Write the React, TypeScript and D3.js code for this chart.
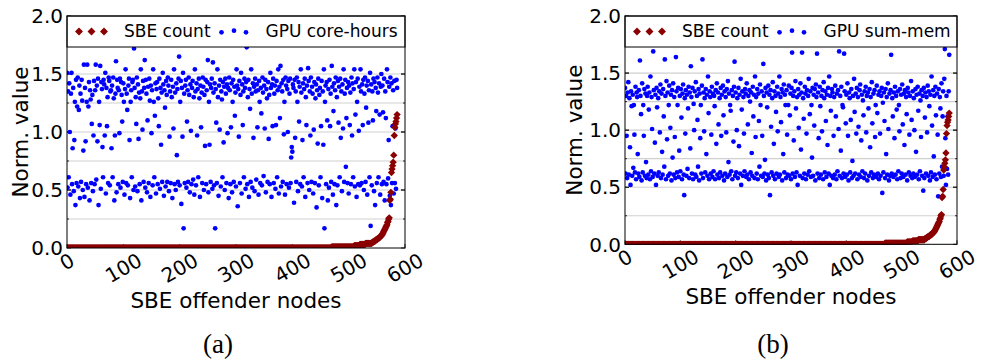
import * as d3 from "d3";

// node index runs 0..586, sorted by SBE count
const xTicks = [0, 100, 200, 300, 400, 500, 600];
const yTicks = [0, 0.5, 1, 1.5, 2];
const yGrid = [0.25, 0.5, 0.75, 1, 1.25, 1.5, 1.75];

// normalized SBE count per node (same nodes in both panels)
const sbeCount = [
  0,0,0,0,0,0,0,0,0,0,0,0,0,0,0,0,0,0,0,0,0,0,0,0,0,0,0,0,0,0,
  0,0,0,0,0,0,0,0,0,0,0,0,0,0,0,0,0,0,0,0,0,0,0,0,0,0,0,0,0,0,
  0,0,0,0,0,0,0,0,0,0,0,0,0,0,0,0,0,0,0,0,0,0,0,0,0,0,0,0,0,0,
  0,0,0,0,0,0,0,0,0,0,0,0,0,0,0,0,0,0,0,0,0,0,0,0,0,0,0,0,0,0,
  0,0,0,0,0,0,0,0,0,0,0,0,0,0,0,0,0,0,0,0,0,0,0,0,0,0,0,0,0,0,
  0,0,0,0,0,0,0,0,0,0,0,0,0,0,0,0,0,0,0,0,0,0,0,0,0,0,0,0,0,0,
  0,0,0,0,0,0,0,0,0,0,0,0,0,0,0,0,0,0,0,0,0,0,0,0,0,0,0,0,0,0,
  0,0,0,0,0,0,0,0,0,0,0,0,0,0,0,0,0,0,0,0,0,0,0,0,0,0,0,0,0,0,
  0,0,0,0,0,0,0,0,0,0,0,0,0,0,0,0,0,0,0,0,0,0,0,0,0,0,0,0,0,0,
  0,0,0,0,0,0,0,0,0,0,0,0,0,0,0,0,0,0,0,0,0,0,0,0,0,0,0,0,0,0,
  0,0,0,0,0,0,0,0,0,0,0,0,0,0,0,0,0,0,0,0,0,0,0,0,0,0,0,0,0,0,
  0,0,0,0,0,0,0,0,0,0,0,0,0,0,0,0,0,0,0,0,0,0,0,0,0,0,0,0,0,0,
  0,0,0,0,0,0,0,0,0,0,0,0,0,0,0,0,0,0,0,0,0,0,0,0,0,0,0,0,0,0,
  0,0,0,0,0,0,0,0,0,0,0,0,0,0,0,0,0,0,0,0,0,0,0,0,0,0,0,0,0,0,
  0,0,0,0,0,0,0,0,0,0,0,0,0,0,0,0,0,0,0,0,0,0,0,0,0,0,0,0,0,0,
  0,0,0,0,0,0,0,0,0,0,0,0,0,0,0,0,0,0,0,0,0.01,0.01,0.01,0.01,0.01,0.01,0.01,0.01,0.01,0.01,
  0.01,0.01,0.01,0.01,0.01,0.01,0.01,0.01,0.01,0.01,0.01,0.01,0.01,0.01,0.01,
  0.01,0.01,0.01,0.01,0.01,0.01,0.01,0.01,0.01,0.01,0.01,0.01,0.01,0.01,0.01,
  0.02,0.02,0.02,0.02,0.02,0.02,0.02,0.02,0.02,0.02,
  0.03,0.03,0.03,0.03,0.03,0.03,0.03,0.03,0.03,0.03,
  0.04,0.04,0.04,0.04,0.04,0.04,0.04,0.04,0.04,0.04,
  0.04,0.04,0.05,0.05,0.05,0.06,0.06,0.06,0.07,0.07,
  0.07,0.08,0.08,0.08,0.09,0.09,0.10,0.10,0.11,0.11,
  0.12,0.13,0.14,0.15,0.16,0.17,0.18,0.19,0.20,0.22,0.23,0.25,0.26,
  0.41,0.42,0.48,0.65,0.68,0.71,0.74,0.80,0.97,1.04,1.07,1.09,1.12,1.15,
];

// normalized GPU core-hours per node, panel (a)
const gpuCoreHours = [
  1.51,0.52,1.35,0.61,1.42,1.00,0.46,1.33,1.51,0.55,0.86,1.38,0.49,0.93,1.26,0.37,1.45,0.56,1.22,1.47,
  0.53,1.19,1.40,0.43,1.33,0.57,1.45,1.27,0.50,0.84,1.58,0.44,1.38,0.92,0.55,1.26,1.58,0.52,1.22,1.43,
  0.41,1.36,1.28,0.56,1.07,1.32,0.49,0.97,1.44,0.55,1.36,1.58,0.59,1.40,0.92,1.46,0.37,1.26,1.06,1.57,
  0.51,1.43,1.37,0.87,0.61,1.45,1.41,0.97,1.51,0.47,1.38,1.05,1.30,0.56,1.47,1.44,0.54,1.35,1.36,0.86,
  1.40,0.61,1.47,1.29,0.41,0.97,1.33,1.61,0.48,1.45,1.38,0.55,1.36,0.99,1.46,0.52,1.43,1.32,1.09,0.57,
  1.42,1.26,0.46,1.37,1.54,0.56,1.33,1.19,0.54,1.40,1.46,0.93,0.43,1.26,1.36,0.61,1.43,1.45,0.50,1.72,
  1.38,0.53,1.30,1.07,1.47,0.49,1.41,0.94,1.34,0.55,1.29,1.54,0.41,1.35,1.02,1.44,0.57,1.38,1.62,0.52,
  1.45,1.33,0.48,1.10,1.39,0.56,1.46,1.27,0.44,1.40,0.99,1.36,0.54,1.54,1.26,0.61,1.14,1.42,0.47,1.37,
  1.43,0.55,1.29,1.05,1.46,0.51,1.38,0.89,1.34,0.57,1.51,1.41,0.45,1.36,1.21,0.53,1.44,1.32,0.57,1.47,
  1.40,0.49,0.96,1.35,0.56,1.45,1.30,0.43,1.39,1.03,1.54,0.55,1.34,0.50,1.42,0.80,1.37,0.57,1.46,1.65,
  0.54,1.26,1.44,0.38,1.38,0.96,1.51,0.17,1.33,0.56,1.40,1.45,0.52,1.09,1.36,0.57,1.47,1.32,0.48,1.41,
  1.01,0.55,1.38,1.44,0.59,1.30,0.46,1.54,1.35,0.54,1.42,0.97,1.37,0.61,1.46,1.29,0.44,1.40,1.04,1.34,
  0.56,1.47,1.39,0.50,1.32,0.88,1.45,0.55,1.36,1.43,1.62,0.48,1.26,0.89,1.41,0.57,1.38,1.46,0.51,1.60,
  1.34,0.54,1.42,0.17,1.37,1.08,0.56,1.54,1.30,0.45,1.40,1.02,1.45,0.53,1.35,1.28,0.61,1.43,0.91,1.39,
  0.50,1.46,1.33,0.56,1.41,0.99,1.38,0.43,1.47,1.36,0.55,1.04,1.42,0.48,1.26,1.45,0.57,1.39,1.14,1.34,
  0.53,1.54,1.40,0.36,1.37,0.96,1.44,0.56,1.32,1.51,0.47,1.41,1.06,1.35,0.61,1.46,1.38,0.51,1.43,1.73,
  0.55,1.30,1.45,0.44,1.37,1.20,0.57,1.54,1.33,0.52,1.42,0.95,1.39,0.49,1.46,1.35,0.59,1.41,1.04,1.36,
  0.46,1.44,1.26,0.56,1.38,1.16,0.54,1.47,1.34,0.62,1.40,1.03,1.45,0.48,1.37,1.29,0.57,1.43,0.94,1.32,
  0.55,1.51,1.38,0.44,1.41,1.05,1.46,0.56,1.33,1.40,0.51,1.06,1.44,0.61,1.36,1.54,0.47,1.39,1.12,1.57,
  0.53,1.42,1.35,0.57,1.45,0.98,1.26,0.46,1.47,1.40,0.55,1.37,1.00,1.44,0.52,1.33,1.46,0.56,0.78,0.87,
  0.83,1.41,1.38,0.39,1.45,0.95,1.35,0.57,1.47,1.26,0.49,1.43,1.09,1.39,0.55,1.54,1.34,0.53,0.93,1.42,
  0.61,1.37,1.46,0.44,1.30,1.06,1.40,0.56,1.55,1.44,0.50,1.35,0.97,1.47,0.57,1.39,1.33,0.47,1.02,1.43,
  0.56,1.29,1.41,0.35,1.36,0.90,1.46,0.54,1.32,1.38,0.61,1.05,1.44,0.43,1.35,0.89,1.54,0.17,1.26,1.40,
  0.55,1.43,1.10,0.41,1.37,0.52,1.45,1.05,1.33,0.57,1.57,1.39,0.46,1.18,1.42,0.55,1.36,1.47,0.37,1.30,
  0.54,1.44,1.08,1.39,0.61,1.46,0.95,1.35,0.49,1.41,1.03,1.54,0.57,1.33,1.45,0.70,1.12,1.38,0.56,1.43,
  0.47,1.40,1.06,1.34,0.55,1.47,0.97,1.42,0.61,1.37,1.54,0.53,1.15,1.43,0.44,1.26,1.46,0.55,1.01,1.39,
  0.54,1.54,1.35,0.56,1.41,1.06,1.45,0.50,1.33,1.47,0.57,1.21,1.40,0.46,1.44,1.08,1.36,0.61,1.51,0.19,
  1.41,0.54,1.35,1.10,1.46,0.49,1.43,0.37,1.38,1.18,0.56,1.47,1.34,0.61,1.42,1.15,0.46,1.39,1.50,0.55,
  1.40,1.17,0.57,1.46,0.41,1.35,1.12,0.55,1.54,1.43,0.60,0.93,1.39,0.45,1.47,0.37,1.42,0.56,1.05,1.36,
  0.47,1.44,0.56,1.03,0.51,1.45,1.38,
];

// normalized GPU sum-mem per node, panel (b)
const gpuSumMem = [
  1.37,0.62,1.30,0.95,0.58,1.33,1.42,0.61,1.28,0.85,0.52,1.34,1.21,0.60,1.31,0.67,1.22,0.96,0.63,1.38,
  0.57,1.33,1.29,0.79,0.62,1.35,0.59,1.61,1.30,1.14,0.56,1.41,0.63,1.22,0.95,1.36,0.60,1.32,0.72,0.58,
  1.30,1.38,0.61,1.18,1.33,0.57,1.47,0.64,1.29,1.01,0.59,1.69,1.35,0.62,0.89,1.31,0.52,1.37,1.20,0.60,
  1.28,0.63,1.34,0.98,1.40,0.58,1.32,0.81,0.61,1.36,1.12,0.68,1.62,1.30,0.57,1.43,0.92,1.33,0.60,1.22,
  1.39,0.62,1.02,1.31,0.56,1.35,0.76,1.41,0.61,1.29,0.94,0.58,1.64,1.34,0.63,1.22,1.37,0.59,0.82,1.30,
  0.64,1.36,1.11,0.57,1.32,1.40,0.61,0.43,1.28,0.97,1.35,0.60,1.31,0.66,1.19,1.38,0.58,1.33,0.84,1.56,
  1.29,0.62,1.37,0.57,1.23,1.00,1.34,0.61,1.42,0.59,1.30,1.09,0.68,1.36,0.56,1.32,0.93,1.22,0.62,1.39,
  1.62,0.58,1.33,0.99,1.28,0.63,1.36,0.79,1.31,0.60,1.47,1.15,0.57,1.34,1.29,0.62,0.96,1.38,0.59,1.32,
  0.64,1.30,1.21,0.57,1.35,0.88,1.41,0.61,1.33,1.05,0.58,1.28,0.63,1.37,0.95,1.31,0.60,1.39,1.13,0.56,
  1.34,0.62,1.29,0.98,1.36,0.59,1.43,0.72,1.32,0.61,1.22,1.17,0.64,1.35,0.57,1.30,0.90,1.38,1.60,0.60,
  1.33,0.63,1.00,1.28,0.58,1.37,0.86,1.31,0.62,1.45,0.52,1.18,1.34,0.60,1.29,0.97,0.64,1.36,1.32,0.59,
  1.41,0.61,1.05,1.30,0.57,1.35,1.25,0.63,1.33,0.80,0.60,1.38,1.12,1.31,0.58,1.47,0.94,1.29,0.62,1.36,
  0.57,1.32,1.08,0.68,1.40,1.22,0.60,1.34,0.95,0.59,1.58,1.30,0.62,0.74,1.37,0.56,1.33,1.20,0.61,1.39,
  0.58,1.31,0.43,1.35,1.03,0.63,1.28,1.42,0.60,0.88,1.34,0.57,1.30,1.16,0.62,1.38,0.99,1.32,0.59,1.47,
  0.61,1.29,1.07,1.36,0.56,1.33,0.79,1.40,0.63,1.31,1.22,0.58,1.35,0.96,0.61,1.22,1.39,0.60,1.13,1.32,
  0.57,1.37,1.68,0.62,1.30,0.91,1.34,0.59,1.43,1.19,0.63,1.29,0.52,1.36,1.02,1.31,0.60,1.41,0.83,1.33,
  1.68,0.58,1.28,1.10,0.62,1.38,1.32,0.57,0.97,1.35,0.61,1.30,1.45,0.64,1.14,1.34,0.59,1.22,0.76,1.37,
  0.60,1.31,1.04,1.36,0.56,1.40,1.29,1.67,0.62,1.33,0.93,0.58,1.38,1.21,0.61,1.30,0.99,1.35,0.57,1.42,
  1.28,0.63,1.34,1.08,0.59,1.31,0.87,1.37,0.62,1.47,0.52,1.30,1.17,0.60,1.36,1.33,0.58,0.95,1.29,0.61,
  1.39,1.12,0.57,1.32,0.64,1.35,1.01,1.69,0.60,1.30,0.82,1.38,0.58,1.22,1.20,0.62,1.67,1.34,0.59,1.06,
  1.31,0.61,1.41,0.95,0.56,1.33,1.28,0.63,1.09,1.36,0.58,0.73,1.30,0.60,1.45,1.16,0.62,1.32,0.97,1.37,
  0.57,1.29,1.03,0.61,1.35,1.40,0.59,0.91,1.31,0.64,1.26,1.13,0.58,1.34,0.62,1.38,0.98,1.30,0.56,1.33,
  1.19,0.60,1.36,0.85,1.29,0.63,1.42,1.06,0.58,1.32,0.61,1.35,0.94,1.22,0.59,1.39,1.15,0.62,1.31,0.57,
  1.34,0.97,0.60,1.30,1.37,0.45,1.24,0.63,1.33,1.08,0.58,1.36,0.79,1.29,0.61,1.41,1.01,0.56,1.32,0.60,
  1.35,1.66,0.62,1.28,1.12,0.59,1.33,0.93,1.38,0.61,1.30,1.18,0.57,1.34,0.64,1.22,0.99,1.36,0.58,1.31,
  0.62,1.40,1.05,0.59,1.32,0.87,1.35,0.61,1.29,1.14,0.56,1.37,1.33,0.63,0.96,1.30,0.60,1.43,1.09,0.58,
  1.34,0.62,1.28,1.00,0.59,1.36,0.81,1.31,0.61,1.38,1.17,0.57,1.32,0.64,1.26,0.94,1.35,0.60,1.30,0.47,
  1.37,0.58,1.11,1.33,0.62,1.29,0.98,1.39,0.60,1.34,1.21,0.56,1.31,0.63,1.47,1.04,0.59,1.35,0.77,1.30,
  0.61,1.38,1.13,0.57,1.32,0.96,0.42,1.36,0.62,1.29,1.19,0.59,1.41,0.68,1.12,1.34,0.60,1.45,1.71,0.93,
  0.52,1.30,0.66,1.12,0.61,1.34,1.66,
];

const SANS = "DejaVu Sans, sans-serif";
const RED = "#8b0000";
const BLUE = "#0000ff";

const panels = [
  { id: "a", gpu: gpuCoreHours, gpuLabel: "GPU core-hours", left: 67, right: 405, top: 16, bottom: 248, yLabelX: 28, captionX: 218 },
  { id: "b", gpu: gpuSumMem, gpuLabel: "GPU sum-mem", left: 625, right: 957, top: 16, bottom: 244.3, yLabelX: 582, captionX: 773 },
];

function Panel({ p }: { p: (typeof panels)[number] }) {
  const x = d3.scaleLinear().domain([0, 600]).range([p.left, p.right]);
  const y = d3.scaleLinear().domain([0, 2]).range([p.bottom, p.top]);
  const diamond = d3.symbol(d3.symbolDiamond2, 34)() as string;
  const legDiamond = d3.symbol(d3.symbolDiamond2, 40)() as string;
  const clip = `clip-${p.id}`;
  const legBottom = p.top + 31;
  const w = p.right - p.left;

  return (
    <g>
      <defs>
        <clipPath id={clip}>
          <rect x={p.left} y={p.top} width={w} height={p.bottom - p.top} />
        </clipPath>
      </defs>
      <rect x={p.left} y={p.top} width={w} height={p.bottom - p.top} fill="#fff" />
      {/* grid */}
      {yGrid.map((v) => (
        <line key={v} x1={p.left} x2={p.right} y1={y(v)} y2={y(v)} stroke="#d0d0d0" strokeWidth={1.2} />
      ))}
      {/* inward ticks */}
      {yGrid.concat(yTicks).map((v, i) => {
        const len = yTicks.includes(v) ? 4 : 2;
        return (
          <g key={"yt" + i} stroke="#000" strokeWidth={0.8}>
            <line x1={p.left} x2={p.left + len} y1={y(v)} y2={y(v)} />
            <line x1={p.right} x2={p.right - len} y1={y(v)} y2={y(v)} />
          </g>
        );
      })}
      {xTicks.map((t) => (
        <line key={"xt" + t} x1={x(t)} x2={x(t)} y1={p.bottom} y2={p.bottom - 4} stroke="#000" strokeWidth={0.8} />
      ))}
      {/* series */}
      <g clipPath={`url(#${clip})`}>
        {p.gpu.map((v, i) => (
          <circle key={"g" + i} cx={x(i)} cy={y(v)} r={2.35} fill={BLUE} />
        ))}
        {sbeCount.map((v, i) => (
          <path key={"s" + i} d={diamond} transform={`translate(${x(i)},${y(v)})`} fill={RED} />
        ))}
      </g>
      {/* legend */}
      <rect x={p.left} y={p.top} width={w} height={legBottom - p.top} fill="#fff" stroke="#000" strokeWidth={1} />
      {[12, 24.5, 37].map((dx) => (
        <path key={"ld" + dx} d={legDiamond} transform={`translate(${p.left + dx},${p.top + 15.5})`} fill={RED} />
      ))}
      <text x={p.left + 57} y={p.top + 21} fontFamily={SANS} fontSize={17}>SBE count</text>
      {[
        [154.5, 16.3],
        [167, 14.7],
        [179, 16.3],
      ].map(([dx, dy]) => (
        <circle key={"lc" + dx} cx={p.left + dx} cy={p.top + dy} r={2.35} fill={BLUE} />
      ))}
      <text x={p.left + 198.5} y={p.top + 21} fontFamily={SANS} fontSize={17}>{p.gpuLabel}</text>
      {/* frame */}
      <rect x={p.left} y={p.top} width={w} height={p.bottom - p.top} fill="none" stroke="#000" strokeWidth={1} />
      {/* y tick labels */}
      {yTicks.map((v) => (
        <text key={"yl" + v} x={p.left - 4} y={y(v)} dy="0.36em" textAnchor="end" fontFamily={SANS} fontSize={20}>
          {d3.format(".1f")(v)}
        </text>
      ))}
      {/* x tick labels, rotated 30deg */}
      {xTicks.map((t) => {
        const s = String(t);
        const tw = s.length * 0.636 * 20;
        const bh = tw * 0.5 + 12.6;
        const cy = p.bottom + 4 + bh / 2;
        return (
          <text key={"xl" + t} transform={`translate(${x(t)},${cy}) rotate(-30)`} dy="0.36em" textAnchor="middle" fontFamily={SANS} fontSize={20}>
            {s}
          </text>
        );
      })}
      <text x={(p.left + p.right) / 2} y={p.bottom + 59.5} textAnchor="middle" fontFamily={SANS} fontSize={21.5}>
        SBE offender nodes
      </text>
      <text transform={`translate(${p.yLabelX},${(p.top + p.bottom) / 2}) rotate(-90)`} textAnchor="middle" fontFamily={SANS} fontSize={21.5}>
        Norm. value
      </text>
      <text x={p.captionX} y={353} textAnchor="middle" fontFamily="Liberation Serif, serif" fontSize={27}>
        ({p.id})
      </text>
    </g>
  );
}

export default function App() {
  return (
    <svg width={982} height={364} style={{ position: "absolute", left: 0, top: 0, background: "#fff" }}>
      <rect width={982} height={364} fill="#fff" />
      {panels.map((p) => (
        <Panel key={p.id} p={p} />
      ))}
    </svg>
  );
}
